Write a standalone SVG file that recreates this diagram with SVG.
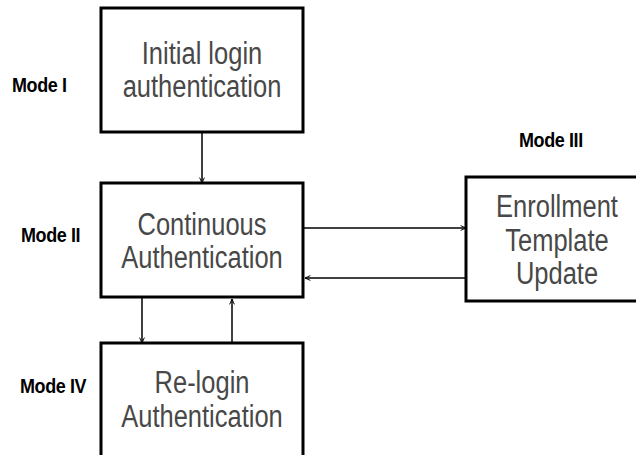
<svg xmlns="http://www.w3.org/2000/svg" width="636" height="455" viewBox="0 0 636 455">
<style>
.box{fill:#fff;stroke:#000;stroke-width:3}
.t{font-family:"Liberation Sans",Arial,sans-serif;font-size:25.5px;fill:#484848;text-anchor:middle}
.m{font-family:"Liberation Sans",Arial,sans-serif;font-size:18px;font-weight:bold;fill:#000;letter-spacing:-0.4px}
.c{stroke:#000;stroke-width:1.5;fill:none}
</style>
<defs>
<marker id="ah" viewBox="0 0 10 10" refX="10" refY="5" markerWidth="6" markerHeight="6" markerUnits="userSpaceOnUse" orient="auto">
<path d="M1,1 L10,5 L1,9" fill="none" stroke="#000" stroke-width="1.6"/>
</marker>
</defs>
<rect width="636" height="455" fill="#fff"/>
<g id="connectors">
<line class="c" x1="202" y1="132" x2="202" y2="183" marker-end="url(#ah)"/>
<line class="c" x1="303" y1="228" x2="466" y2="228" marker-end="url(#ah)"/>
<line class="c" x1="466" y1="278" x2="305" y2="278" marker-end="url(#ah)"/>
<line class="c" x1="142" y1="297" x2="142" y2="343" marker-end="url(#ah)"/>
<line class="c" x1="232" y1="343" x2="232" y2="299" stroke="#555" stroke-width="1" marker-end="url(#ah)"/>
</g>
<g id="mode-labels">
<text class="m" transform="translate(12,92) scale(1,1.15)">Mode I</text>
<text class="m" transform="translate(21,242) scale(1,1.15)">Mode II</text>
<text class="m" transform="translate(519,147) scale(1,1.15)">Mode III</text>
<text class="m" transform="translate(20,393) scale(1,1.15)">Mode IV</text>
</g>
<g id="node-initial">
<rect class="box" x="101" y="8" width="202" height="124"/>
<text class="t" transform="translate(202,64) scale(1,1.2)">Initial login</text>
<text class="t" transform="translate(202,97) scale(1,1.2)">authentication</text>
</g>
<g id="node-continuous">
<rect class="box" x="101" y="183" width="202" height="114"/>
<text class="t" transform="translate(202,235) scale(1,1.2)">Continuous</text>
<text class="t" transform="translate(202,268) scale(1,1.2)">Authentication</text>
</g>
<g id="node-enrollment">
<rect class="box" x="466" y="177" width="190" height="124"/>
<text class="t" transform="translate(557,217) scale(1,1.2)">Enrollment</text>
<text class="t" transform="translate(557,251) scale(1,1.2)">Template</text>
<text class="t" transform="translate(557,284) scale(1,1.2)">Update</text>
</g>
<g id="node-relogin">
<rect class="box" x="101" y="343" width="202" height="130"/>
<text class="t" transform="translate(202,393) scale(1,1.2)">Re-login</text>
<text class="t" transform="translate(202,427) scale(1,1.2)">Authentication</text>
</g>
</svg>
